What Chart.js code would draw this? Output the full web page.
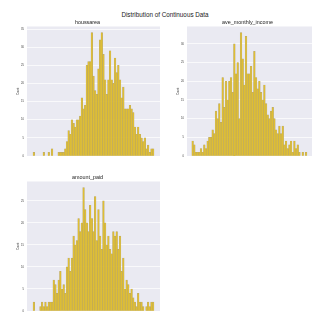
<!DOCTYPE html>
<html>
<head>
<meta charset="utf-8">
<script src="https://cdn.jsdelivr.net/npm/chart.js@4.4.1/dist/chart.umd.min.js"></script>
<style>
  html, body { margin: 0; padding: 0; background: #fff; }
  body { width: 312px; height: 312px; overflow: hidden; position: relative; font-family: "Liberation Sans", Arial, sans-serif; }
  #suptitle { position: absolute; left: 0; width: 330px; top: 10.5px; line-height: 7px; text-align: center; font-size: 6.3px; color: #222; }
  .box { position: absolute; width: 150px; height: 149px; }
  #box1 { left: 15px; top: 17px; }
  #box2 { left: 175px; top: 17px; }
  #box3 { left: 15px; top: 171.5px; }
</style>
</head>
<body>
<div id="suptitle">Distribution of Continuous Data</div>
<div class="box" id="box1"><canvas id="chart1"></canvas></div>
<div class="box" id="box2"><canvas id="chart2"></canvas></div>
<div class="box" id="box3"><canvas id="chart3"></canvas></div>
<script>
// houssarea histogram
const houssareaBinStart = 242.6;
const houssareaBinWidth = 12.82;
const houssareaCounts = [1,0,0,0,0,0,1,0,0,1,0,2,0,0,0,1,1,1,1,2,4,7,6,10,9,8,10,10,11,16,13,14,25,26,26,34,22,18,17,24,32,34,28,21,17,21,29,21,20,27,23,25,21,16,19,13,13,13,14,13,12,8,6,8,6,5,4,5,2,3,1,2,2];
const houssareaXTicks = [200, 400, 600, 800, 1000, 1200];
const houssareaYTicks = [0, 5, 10, 15, 20, 25, 30, 35];

// ave_monthly_income histogram
const incomeBinStart = -1508;
const incomeBinWidth = 794;
const incomeCounts = [4,3,1,1,1,2,1,3,2,4,5,5,7,6,12,10,14,9,21,13,20,15,20,21,17,30,22,25,10,33,26,19,32,22,22,24,17,28,21,18,20,17,15,19,14,11,10,12,13,10,7,6,8,6,8,3,4,2,3,4,1,4,2,3,1,0,1,0,1];
const incomeXTicks = [0, 10000, 20000, 30000, 40000, 50000];
const incomeYTicks = [0, 5, 10, 15, 20, 25, 30];

// amount_paid histogram
const paidBinStart = 1000;
const paidBinWidth = 400;
const paidCounts = [2,0,0,0,1,2,1,2,1,2,2,2,7,6,4,7,9,5,6,4,10,12,9,12,17,15,16,21,18,20,28,23,20,18,24,21,18,26,16,23,17,14,25,20,15,17,14,13,18,17,18,14,17,9,12,5,7,6,4,5,3,2,1,4,2,2,1,0,1,2,1,2,2];
const paidXTicks = [0, 5000, 10000, 15000, 20000, 25000, 30000];
const paidYTicks = [0, 5, 10, 15, 20, 25];

const FONT = '"Liberation Sans", Arial, sans-serif';

const plotBackground = {
  id: 'plotBackground',
  beforeDraw(chart) {
    const { ctx, chartArea: a } = chart;
    ctx.save();
    ctx.fillStyle = '#eaeaf2';
    ctx.fillRect(a.left, a.top, a.right - a.left, a.bottom - a.top);
    ctx.restore();
  }
};

function makeHist(id, title, binStart, binWidth, counts, xMin, xMax, xTicks, yTicks) {
  const points = counts.map((c, i) => ({
    x: binStart + (i + 0.5) * binWidth,
    y: c === 0 ? null : c
  }));
  const yMax = Math.max(...counts) * 1.05;

  return new Chart(document.getElementById(id), {
    type: 'bar',
    data: {
      datasets: [{
        data: points,
        backgroundColor: 'rgba(226,191,42,0.92)',
        borderColor: 'rgba(170,155,105,0.85)',
        borderWidth: 0.4,
        borderSkipped: 'bottom',
        barPercentage: 1,
        categoryPercentage: 1
      }]
    },
    options: {
      responsive: true,
      maintainAspectRatio: false,
      animation: false,
      layout: { padding: { left: 0, right: 5, top: 0, bottom: 0 } },
      plugins: {
        legend: { display: false },
        tooltip: { enabled: false },
        title: {
          display: true,
          text: title,
          color: '#222',
          font: { family: FONT, size: 5.4, weight: 'normal' },
          padding: { top: 2, bottom: 1 }
        }
      },
      scales: {
        x: {
          type: 'linear',
          offset: false,
          min: xMin,
          max: xMax,
          afterBuildTicks: s => { s.ticks = xTicks.map(v => ({ value: v })); },
          afterFit: s => { s.height = 10; },
          grid: { display: false, offset: false },
          border: { display: false },
          ticks: {
            color: '#333',
            font: { family: FONT, size: 2.6 },
            padding: 2.5,
            maxRotation: 0,
            autoSkip: false,
            callback: v => String(v)
          }
        },
        y: {
          min: 0,
          max: yMax,
          afterBuildTicks: s => { s.ticks = yTicks.map(v => ({ value: v })); },
          afterFit: s => { s.width = 12; },
          grid: { color: '#ffffff', lineWidth: 0.7, drawTicks: false },
          border: { display: false },
          ticks: {
            color: '#333',
            font: { family: FONT, size: 2.6 },
            padding: 3,
            callback: v => String(v)
          },
          title: {
            display: true,
            text: 'Count',
            color: '#333',
            font: { family: FONT, size: 2.6 },
            padding: { top: 1.4, bottom: 0 }
          }
        }
      }
    },
    plugins: [plotBackground]
  });
}

makeHist('chart1', 'houssarea', houssareaBinStart, houssareaBinWidth, houssareaCounts, 196, 1225, houssareaXTicks, houssareaYTicks);
makeHist('chart2', 'ave_monthly_income', incomeBinStart, incomeBinWidth, incomeCounts, -3800, 59500, incomeXTicks, incomeYTicks);
makeHist('chart3', 'amount_paid', paidBinStart, paidBinWidth, paidCounts, -460, 31660, paidXTicks, paidYTicks);
</script>
</body>
</html>
